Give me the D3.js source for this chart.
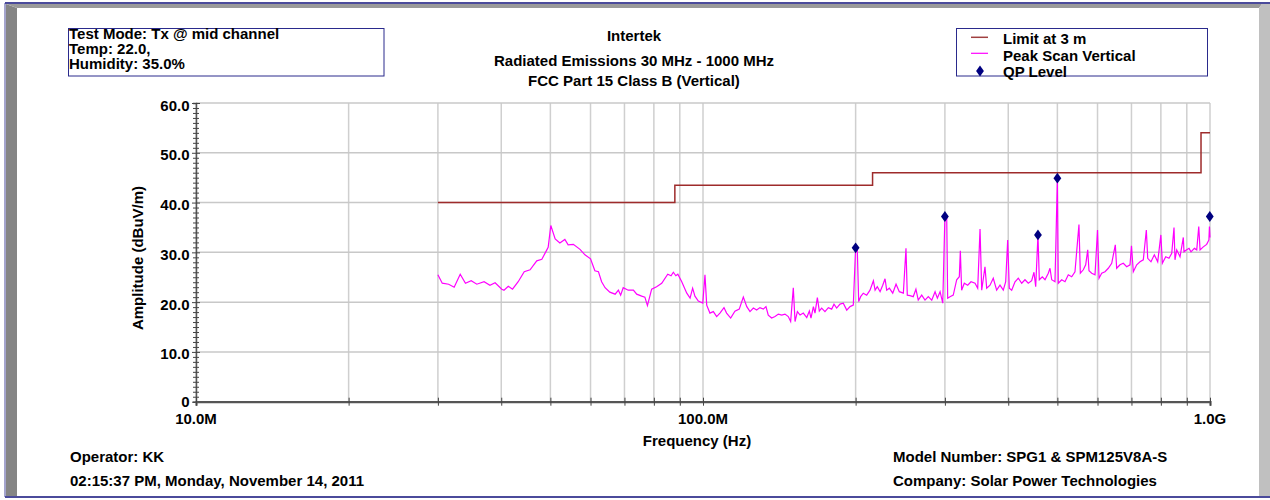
<!DOCTYPE html>
<html>
<head>
<meta charset="utf-8">
<script src="https://cdn.jsdelivr.net/npm/d3@7"></script>
<style>
html,body{margin:0;padding:0;background:#fff;}
svg{display:block;}
text{font-family:"Liberation Sans",Arial,sans-serif;font-weight:bold;fill:#000;}
</style>
</head>
<body>
<svg id="chart" width="1270" height="500"></svg>
<script>
// ---------- data ----------
const peakFreq = [30.0,30.6,31.5,32.3,33.2,34.0,34.9,35.8,37.0,38.0,38.9,40.1,40.5,41.3,42.1,43.2,44.4,45.6,47.0,48.1,49.2,49.5,50.1,51.1,52.2,53.4,54.2,55.5,57.2,58.5,60.0,61.2,62.2,63.1,64.1,65.5,67.1,68.1,68.8,69.6,71.2,72.9,74.0,75.7,76.8,77.7,79.2,81.0,82.9,85.2,86.5,87.4,88.4,89.2,90.8,92.9,94.3,95.4,96.4,97.9,99.9,
100.9,101.7,103.2,104.8,106.4,108.0,110.0,111.3,113.4,115.6,117.9,120.1,122.0,123.8,125.7,127.6,129.5,131.5,133.1,134.5,136.6,138.7,140.8,143.0,145.1,147.3,148.9,150.7,151.9,153.5,155.4,157.7,160.2,162.1,163.3,165.1,166.3,168.1,169.6,171.4,174.0,176.7,179.4,181.3,183.5,186.3,189.1,192.1,195.0,197.9,
200.0,201.5,202.8,204.6,207.1,210.3,213.5,216.8,218.5,220.7,223.5,226.2,228.6,230.3,233.1,236.7,240.3,243.9,248.4,251.4,252.9,256.0,259.8,263.0,265.8,270.0,274.1,278.2,282.6,286.9,289.9,293.5,297.1,300.0,302.5,303.8,307.0,311.6,316.5,320.3,321.8,323.7,327.6,332.7,337.8,344.0,348.2,351.9,354.6,359.9,362.7,368.2,373.7,379.5,385.3,391.1,395.4,399.0,401.9,406.3,412.5,418.7,425.2,431.6,438.1,444.9,449.6,453.1,457.8,460.6,466.9,472.7,479.8,483.5,487.3,494.6,
500.0,502.1,509.9,517.6,525.4,533.6,541.6,551.5,554.9,562.5,568.6,573.9,577.2,584.4,593.2,600.0,604.1,611.5,620.7,630.1,639.9,650.5,654.5,664.5,674.5,685.0,695.4,700.0,705.9,716.9,727.7,738.7,748.9,753.6,764.9,776.6,788.6,800.0,805.4,817.9,830.0,840.5,849.2,853.0,859.8,872.7,885.9,888.5,899.5,909.1,917.4,931.4,941.6,950.2,955.9,970.0,985.0,995.0,997.5,1000.0];
const peakAmp = [25.5,23.8,23.6,23.0,25.6,23.8,24.3,23.6,24.1,23.4,23.9,22.6,22.4,23.2,22.6,24.1,26.1,26.5,28.3,28.6,30.5,31.0,35.4,32.7,31.9,32.6,31.5,31.6,30.6,29.5,28.7,26.3,26.1,24.1,22.9,22.0,21.6,22.4,21.4,22.9,22.4,22.4,21.6,21.2,21.0,19.3,22.6,23.1,23.8,25.6,25.3,26.0,25.3,25.6,24.1,21.8,20.8,22.8,21.2,20.2,19.8,
25.5,19.4,17.8,18.1,17.1,17.8,18.9,17.8,16.8,18.2,18.6,21.0,19.1,18.1,18.8,18.4,18.9,18.6,19.1,17.4,16.8,17.1,17.6,17.4,17.6,17.1,16.1,22.9,16.1,18.1,17.4,17.8,16.9,18.2,16.8,19.1,17.8,20.9,18.2,18.8,18.1,18.9,18.6,19.6,18.8,19.6,19.8,18.4,19.1,19.4,
30.9,30.8,20.1,21.1,21.8,21.4,22.4,24.3,22.4,23.1,22.1,23.4,24.7,22.4,22.8,21.8,23.6,22.1,21.8,30.8,21.4,21.3,21.1,22.6,20.4,21.4,20.4,21.1,20.4,22.1,20.8,22.1,19.8,37.2,36.8,20.8,21.1,21.4,24.5,25.1,30.3,22.4,23.8,23.4,24.1,23.8,22.8,34.7,22.4,27.1,22.8,23.4,24.8,22.4,23.4,22.4,24.1,32.5,22.8,22.4,24.1,24.8,23.8,24.5,23.8,24.3,26.0,23.1,33.5,24.5,25.1,24.5,25.8,26.8,24.5,24.1,
44.9,23.8,24.5,24.1,25.5,25.1,26.1,35.6,25.8,26.5,27.5,30.5,26.3,25.8,25.5,34.5,24.8,25.8,26.1,26.8,27.8,31.5,26.8,27.5,27.8,27.1,27.5,31.3,26.1,27.5,28.1,28.5,34.5,28.8,28.1,29.5,28.1,33.5,27.8,29.1,28.8,29.8,35.0,28.5,30.5,29.1,33.0,30.1,30.5,30.8,30.1,30.8,30.5,35.2,30.5,31.1,31.6,32.5,35.2,33.0];

const limitFreq = [30, 88, 216, 960, 1000];
const limitAmp  = [40, 43.5, 46, 54, 54];

const qpFreq = [200, 300, 457.8, 500, 999];
const qpAmp  = [30.9, 37.2, 33.5, 44.9, 37.2];

const yMajorTicks = [0, 10, 20, 30, 40, 50, 60];
const yTickLabels = ["0", "10.0", "20.0", "30.0", "40.0", "50.0", "60.0"];
const xGridFreq = [10, 20, 30, 40, 50, 60, 70, 80, 90, 100, 200, 300, 400, 500, 600, 700, 800, 900, 1000];
const xLabelFreq = [10, 100, 1000];
const xTickLabels = ["10.0M", "100.0M", "1.0G"];

const titleLines = ["Intertek", "Radiated Emissions 30 MHz - 1000 MHz", "FCC Part 15 Class B (Vertical)"];
const infoLines = ["Test Mode: Tx @ mid channel", "Temp: 22.0,", "Humidity: 35.0%"];
const legendNames = ["Limit at 3 m", "Peak Scan Vertical", "QP Level"];

// ---------- drawing ----------
const svg = d3.select("#chart");
const x = d3.scaleLog().domain([10, 1000]).range([196, 1210]);
const y = d3.scaleLinear().domain([0, 60]).range([401.7, 103]);

// frame
svg.append("rect").attr("x",0).attr("y",0).attr("width",1270).attr("height",500).attr("fill","#fff");
svg.append("polygon").attr("points","6,4 17,8 17,497 6,497").attr("fill","#858585");
svg.append("polygon").attr("points","6,4 1262,4 1259,8 17,8").attr("fill","#9a9a9a");
svg.append("polygon").attr("points","1259,8 1262,4 1270,4 1270,497 1259,497").attr("fill","#c0c0c0");
svg.append("line").attr("x1",5).attr("x2",1270).attr("y1",3).attr("y2",3).attr("stroke","#4b4b9b").attr("stroke-width",2);
svg.append("line").attr("x1",5).attr("x2",1270).attr("y1",497).attr("y2",497).attr("stroke","#4b4b9b").attr("stroke-width",2);
svg.append("line").attr("x1",5).attr("x2",5).attr("y1",3).attr("y2",497).attr("stroke","#4b4b9b").attr("stroke-width",1);

// grid
const grid = svg.append("g");
grid.selectAll("line.v").data(xGridFreq).join("line")
  .attr("x1", d => x(d)).attr("x2", d => x(d))
  .attr("y1", y(60)).attr("y2", y(0))
  .attr("stroke", "#cfcfcf").attr("stroke-width", 1.5);
grid.selectAll("line.h").data(yMajorTicks.filter(d => d > 0)).join("line")
  .attr("x1", x(10)).attr("x2", x(1000))
  .attr("y1", d => y(d)).attr("y2", d => y(d))
  .attr("stroke", "#c8c8c8").attr("stroke-width", 1.5);

// y axis
const yAxis = svg.append("g").attr("transform", `translate(${x(10)},0)`)
  .call(d3.axisLeft(y).tickValues(d3.range(0, 61, 1)).tickSize(3).tickFormat(""));
yAxis.select(".domain").attr("stroke", "#555").attr("stroke-width", 1.5);
yAxis.selectAll(".tick line").attr("x1", 3).attr("stroke", "#444");
yAxis.selectAll(".tick").filter(d => d % 10 === 0).select("line").attr("x1", 4).attr("x2", -4);
svg.selectAll("text.ylab").data(yMajorTicks).join("text").attr("class","ylab")
  .attr("x", 189.5).attr("y", d => y(d) + (d === 0 ? 4.8 : 7.5)).attr("text-anchor","end")
  .style("font-size","15px").text((d,i) => yTickLabels[i]);

// x axis
const xAxis = svg.append("g").attr("transform", `translate(0,${y(0)})`)
  .call(d3.axisBottom(x).tickValues(xGridFreq).tickSize(4).tickFormat(""));
xAxis.select(".domain").attr("stroke", "#555").attr("stroke-width", 2.2);
xAxis.selectAll(".tick line").attr("y1", -4).attr("stroke", "#444");
svg.selectAll("text.xlab").data(xLabelFreq).join("text").attr("class","xlab")
  .attr("x", d => x(d)).attr("y", 423.5).attr("text-anchor","middle")
  .style("font-size","15px").text((d,i) => xTickLabels[i]);

// axis titles
svg.append("text").attr("transform","translate(143,258) rotate(-90)").attr("text-anchor","middle")
  .style("font-size","15px").text("Amplitude (dBuV/m)");
svg.append("text").attr("x",697).attr("y",446).attr("text-anchor","middle")
  .style("font-size","15px").text("Frequency (Hz)");

// limit line
const limitData = limitFreq.map((f,i) => [f, limitAmp[i]]);
svg.append("path").datum(limitData)
  .attr("d", d3.line().x(d => x(d[0])).y(d => y(d[1])).curve(d3.curveStepAfter))
  .attr("fill","none").attr("stroke","#9e2b2b").attr("stroke-width",1.5);

// peak scan
const peakData = peakFreq.map((f,i) => [f, peakAmp[i]]);
svg.append("path").datum(peakData)
  .attr("d", d3.line().x(d => x(d[0])).y(d => y(d[1])))
  .attr("fill","none").attr("stroke","#ff00ff").attr("stroke-width",1.2);

// QP points
const diamond = d3.symbol().type(d3.symbolDiamond).size(34);
svg.selectAll("path.qp").data(qpFreq).join("path").attr("class","qp")
  .attr("transform", (d,i) => `translate(${x(d)},${y(qpAmp[i])}) scale(1.25,1)`)
  .attr("d", diamond).attr("fill","#000080");

// title
const titleY = [40.5, 65.5, 86];
svg.selectAll("text.title").data(titleLines).join("text").attr("class","title")
  .attr("x", 634).attr("y", (d,i) => titleY[i]).attr("text-anchor","middle")
  .style("font-size","15px").text(d => d);

// info box
svg.append("rect").attr("x",68.5).attr("y",28.5).attr("width",315.5).attr("height",47.5)
  .attr("fill","#fff").attr("stroke","#2a2a8c").attr("stroke-width",1);
svg.selectAll("text.info").data(infoLines).join("text").attr("class","info")
  .attr("x", 69).attr("y", (d,i) => 39.3 + i*14.8)
  .style("font-size","15px").text(d => d);

// legend
svg.append("rect").attr("x",956.5).attr("y",28.5).attr("width",251).attr("height",47.5)
  .attr("fill","#fff").attr("stroke","#2a2a8c").attr("stroke-width",1);
const legY = [44, 60.7, 76.7];
svg.selectAll("text.leg").data(legendNames).join("text").attr("class","leg")
  .attr("x", 1003).attr("y", (d,i) => legY[i])
  .style("font-size","15px").text(d => d);
svg.append("line").attr("x1",971).attr("x2",988).attr("y1",37.3).attr("y2",37.3).attr("stroke","#a04040").attr("stroke-width",1.5);
svg.append("line").attr("x1",971).attr("x2",988).attr("y1",53.3).attr("y2",53.3).attr("stroke","#ff00ff").attr("stroke-width",1.2);
svg.append("path").attr("transform","translate(980,71) scale(1.25,1)").attr("d", diamond).attr("fill","#000080");

// footer
svg.append("text").attr("x",70).attr("y",462).style("font-size","15px").text("Operator: KK");
svg.append("text").attr("x",70).attr("y",486).style("font-size","15px").text("02:15:37 PM, Monday, November 14, 2011");
svg.append("text").attr("x",893).attr("y",462).style("font-size","15px").text("Model Number: SPG1 & SPM125V8A-S");
svg.append("text").attr("x",893).attr("y",486).style("font-size","15px").text("Company: Solar Power Technologies");
</script>
</body>
</html>
